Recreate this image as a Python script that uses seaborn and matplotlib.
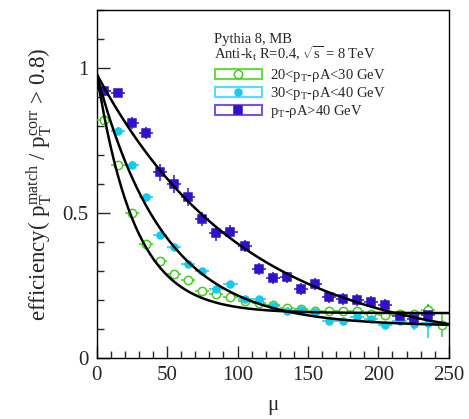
import numpy as np
import pandas as pd
import matplotlib
matplotlib.use("Agg")
import matplotlib.pyplot as plt
from matplotlib.patches import Patch
from matplotlib.lines import Line2D
from matplotlib.legend_handler import HandlerTuple
from matplotlib.ticker import MultipleLocator, FuncFormatter
import seaborn as sns

# ---- data ----
mu_bins = [5, 15, 25, 35, 45, 55, 65, 75, 85, 95, 105, 115, 125, 135, 145,
           155, 165, 175, 185, 195, 205, 215, 225, 235, 245]
bin_half = 5

eff_low = [0.82, 0.667, 0.50, 0.394, 0.336, 0.289, 0.268, 0.23, 0.222, 0.209,
           0.198, 0.19, 0.184, 0.174, 0.17, 0.161, 0.162, 0.163, 0.162, 0.153,
           0.149, 0.153, 0.152, 0.166, 0.114]
err_low = [0.01, 0.01, 0.01, 0.01, 0.008, 0.008, 0.008, 0.008, 0.008, 0.008,
           0.008, 0.008, 0.008, 0.008, 0.008, 0.008, 0.008, 0.01, 0.01, 0.01,
           0.012, 0.012, 0.015, 0.02, 0.04]

eff_mid = [0.92, 0.783, 0.667, 0.554, 0.424, 0.384, 0.324, 0.301, 0.237, 0.256,
           0.204, 0.202, 0.18, 0.162, 0.166, 0.158, 0.128, 0.128, 0.14, 0.133,
           0.114, 0.129, 0.116, 0.12]
err_mid = [0.012, 0.012, 0.012, 0.012, 0.012, 0.01, 0.01, 0.01, 0.01, 0.01,
           0.01, 0.01, 0.01, 0.01, 0.01, 0.01, 0.01, 0.01, 0.012, 0.012,
           0.012, 0.015, 0.02, 0.05]

eff_high = [0.92, 0.914, 0.81, 0.776, 0.64, 0.60, 0.555, 0.48, 0.43, 0.434,
            0.387, 0.307, 0.275, 0.278, 0.237, 0.255, 0.209, 0.203, 0.20, 0.193,
            0.182, 0.144, 0.134, 0.147]
err_high = [0.015, 0.015, 0.02, 0.02, 0.03, 0.03, 0.03, 0.025, 0.025, 0.025,
            0.02, 0.02, 0.02, 0.02, 0.02, 0.02, 0.02, 0.02, 0.02, 0.02,
            0.02, 0.02, 0.025, 0.035]

# fit a*exp(-mu/b)+c, parameters estimated from the drawn curves
fit_low = (0.83, 27.0, 0.155)
fit_mid = (0.87, 47.5, 0.11)
fit_high = (0.95, 104.5, 0.03)

labels = [r"20<$\mathregular{p_{T}}$-ρA<30 GeV",
          r"30<$\mathregular{p_{T}}$-ρA<40 GeV",
          r"$\mathregular{p_{T}}$-ρA>40 GeV"]
colors = ["#44cc22", "#11ccee", "#3311cc"]
box_colors = ["#66dd44", "#55ddff", "#7755dd"]

# ---- style ----
sns.set_style("ticks")
plt.rcParams["font.family"] = ["Liberation Serif", "DejaVu Serif"]
plt.rcParams["mathtext.fontset"] = "custom"
plt.rcParams["mathtext.rm"] = "Liberation Serif"
plt.rcParams["mathtext.it"] = "Liberation Serif"

fig = plt.figure(figsize=(4.69, 4.19), dpi=100)
ax = fig.add_axes([0.206, 0.1456, 0.751, 0.8304])

series = [
    (eff_low, err_low, "o", "none", 6.0),
    (eff_mid, err_mid, "o", None, 5.0),
    (eff_high, err_high, "s", None, 6.0),
]

mu_fine = np.linspace(0, 250, 300)
for (eff, err, mk, fc, ms), col in zip(series, colors):
    x = mu_bins[:len(eff)]
    ax.errorbar(x, eff, xerr=bin_half, yerr=err, fmt=mk, color=col,
                mfc=col if fc is None else "white", mec=col, ms=ms,
                mew=1.1, elinewidth=1.1, capsize=0, zorder=3)

for fit in [fit_low, fit_mid, fit_high]:
    a, b, c = fit
    curve = pd.DataFrame({"mu": mu_fine, "eff": a * np.exp(-mu_fine / b) + c})
    sns.lineplot(data=curve, x="mu", y="eff", color="black", lw=1.8,
                 ax=ax, zorder=4)

ax.set_xlim(0, 250)
ax.set_ylim(0, 1.2)
ax.xaxis.set_major_locator(MultipleLocator(50))
ax.xaxis.set_minor_locator(MultipleLocator(10))
ax.yaxis.set_major_locator(MultipleLocator(0.5))
ax.yaxis.set_minor_locator(MultipleLocator(0.1))
ax.yaxis.set_major_formatter(FuncFormatter(lambda v, p: f"{v:g}"))
ax.tick_params(which="both", direction="in", top=False, right=False,
               labelsize=15, width=1)
ax.tick_params(which="major", length=9, pad=6)
ax.tick_params(which="minor", length=5)
for s in ax.spines.values():
    s.set_visible(True)
    s.set_linewidth(1)
    s.set_color("black")

ax.set_xlabel("μ", fontsize=15, labelpad=8)
ax.set_ylabel(r"efficiency( $\mathregular{p_{T}^{match}}$ / "
              r"$\mathregular{p_{T}^{corr}}$ > 0.8)", fontsize=16.5, labelpad=5)

ax.text(0.332, 0.916, "Pythia 8, MB", transform=ax.transAxes, fontsize=10.5,
        va="center")
ax.text(0.332, 0.874, r"Anti-$\mathregular{k_{t}}$ R=0.4, $\sqrt{s}$ = 8 TeV",
        transform=ax.transAxes, fontsize=10.5, va="center")

handles = []
for col, bcol, (eff, err, mk, fc, ms) in zip(colors, box_colors, series):
    box = Patch(facecolor="white", edgecolor=bcol, lw=1.5)
    mark = Line2D([], [], marker=mk, ls="none", color=col,
                  mfc=col if fc is None else "white", mec=col, ms=ms, mew=1.1)
    handles.append((box, mark))
ax.legend(handles, labels, handler_map={tuple: HandlerTuple(ndivide=1)},
          loc="upper left", bbox_to_anchor=(0.336, 0.835), frameon=False,
          fontsize=10.5, handlelength=3.2, handleheight=0.7, handletextpad=0.6,
          labelspacing=0.05, borderpad=0, borderaxespad=0)

fig.savefig("out.png", dpi=100)
